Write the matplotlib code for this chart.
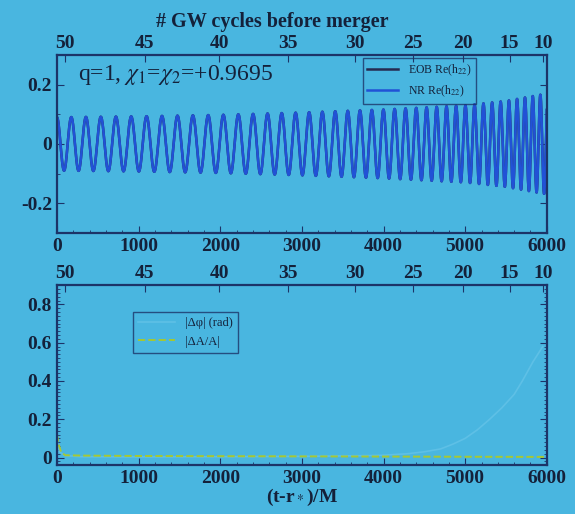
import numpy as np
import matplotlib
matplotlib.use('Agg')
import matplotlib.pyplot as plt
from matplotlib.ticker import MultipleLocator

plt.rcParams['font.family'] = ['Liberation Serif', 'DejaVu Serif']
plt.rcParams['mathtext.fontset'] = 'stix'

# Кольори "слайда"
bg = '#49b6e0'
ink = '#14213a'
frame = '#1c3468'

# Шкала циклів ГХ до злиття (верхня вісь) -> час (t-r*)/M
cycle_labels = [50, 45, 40, 35, 30, 25, 20, 15, 10]
cycle_times = [95, 1075, 1990, 2825, 3645, 4355, 4970, 5545, 5950]

# Обвідна амплітуди Re(h22)
amp_times = [0, 1000, 2000, 3000, 4000, 5000, 5500, 6000]
amp_vals = [0.09, 0.093, 0.098, 0.106, 0.116, 0.13, 0.145, 0.17]

# Нижня панель: |dphi| (рад) та |dA/A|
dphi_t = [0, 30, 100, 300, 1000, 2000, 3000, 3800, 4000, 4300, 4500, 4700, 4850,
          5000, 5150, 5300, 5450, 5600, 5700, 5830, 5950]
dphi_vals = [0.09, 0.03, 0.01, 0.004, 0.003, 0.004, 0.006, 0.01, 0.012, 0.02, 0.03,
             0.045, 0.07, 0.1, 0.145, 0.2, 0.26, 0.33, 0.4, 0.5, 0.58]
dA_t = [0, 20, 50, 100, 300, 1000, 2000, 3000, 4000, 5000, 6000]
dA_vals = [0.12, 0.07, 0.03, 0.012, 0.01, 0.008, 0.007, 0.006, 0.005, 0.004, 0.003]

# Хвильова форма з прочитаних циклів і амплітуди
t = np.linspace(0, 6000, 12000)
coef = np.polyfit(cycle_times, cycle_labels, 3)
n_cyc = np.polyval(coef, t)
amp = np.interp(t, amp_times, amp_vals)
h = amp * np.cos(2 * np.pi * (n_cyc[0] - n_cyc))

fig = plt.figure(figsize=(5.75, 5.14), dpi=100)
fig.patch.set_facecolor(bg)
ax1 = fig.add_axes([0.099, 0.547, 0.852, 0.346])
ax2 = fig.add_axes([0.099, 0.095, 0.852, 0.350])


def style(ax):
    ax.set_facecolor(bg)
    for s in ax.spines.values():
        s.set_color(frame)
        s.set_linewidth(1.6)
    ax.tick_params(which='both', direction='in', colors=frame, labelcolor=ink,
                   labelsize=14, right=True)
    ax.tick_params(which='major', length=5)
    ax.tick_params(which='minor', length=2.5)
    for lab in ax.get_xticklabels() + ax.get_yticklabels():
        lab.set_fontweight('bold')


def cycles_axis(ax):
    top = ax.twiny()
    top.set_xlim(ax.get_xlim())
    top.set_xticks(cycle_times)
    top.set_xticklabels([str(c) for c in cycle_labels], fontweight='bold')
    top.tick_params(direction='in', colors=frame, labelcolor=ink, labelsize=14,
                    length=5, pad=2)
    for s in top.spines.values():
        s.set_visible(False)
    return top


# Верхня панель
ax1.plot(t, h, color='#262a50', lw=1.8, label='EOB Re(h$_{22}$)')
ax1.plot(t, h, color='#2152d6', lw=1.8, label='NR Re(h$_{22}$)')
ax1.set_xlim(0, 6000)
ax1.set_ylim(-0.3, 0.3)
ax1.set_yticks([-0.2, 0, 0.2])
ax1.set_yticklabels(['-0.2', '0', '0.2'])
ax1.xaxis.set_major_locator(MultipleLocator(1000))
ax1.xaxis.set_minor_locator(MultipleLocator(200))
ax1.yaxis.set_minor_locator(MultipleLocator(0.1))
style(ax1)
ax1.text(0.043, 0.89, r'q=1, $\chi_1$=$\chi_2$=+0.9695', transform=ax1.transAxes,
         fontsize=17, color=ink, va='center')
leg1 = ax1.legend(loc='upper right', bbox_to_anchor=(0.855, 0.985), fontsize=8.5,
                  frameon=True, fancybox=False, borderaxespad=0, handlelength=2.6)
leg1.get_frame().set_facecolor('none')
leg1.get_frame().set_edgecolor(frame)
for txt in leg1.get_texts():
    txt.set_color(ink)
top1 = cycles_axis(ax1)
top1.set_xlabel('# GW cycles before merger', fontsize=14.5, fontweight='bold',
                color=ink, labelpad=4)
top1.xaxis.set_label_coords(0.44, 1.16)

# Нижня панель
ax2.plot(dphi_t, dphi_vals, color='#5ec0e6', lw=1.2, label='|Δφ| (rad)')
ax2.plot(dA_t, dA_vals, color='#a6c832', lw=1.4, ls='--', label='|ΔA/A|')
ax2.set_xlim(0, 6000)
ax2.set_ylim(-0.04, 0.9)
ax2.set_yticks([0, 0.2, 0.4, 0.6, 0.8])
ax2.set_yticklabels(['0', '0.2', '0.4', '0.6', '0.8'])
ax2.xaxis.set_major_locator(MultipleLocator(1000))
ax2.xaxis.set_minor_locator(MultipleLocator(200))
ax2.yaxis.set_minor_locator(MultipleLocator(0.02))
style(ax2)
ax2.set_xlabel('(t-r$_*$)/M', fontsize=14, fontweight='bold', color=ink, labelpad=0)
leg2 = ax2.legend(loc='upper left', bbox_to_anchor=(0.155, 0.85), fontsize=9,
                  frameon=True, fancybox=False, borderaxespad=0, handlelength=3)
leg2.get_frame().set_facecolor('none')
leg2.get_frame().set_edgecolor(frame)
for txt in leg2.get_texts():
    txt.set_color(ink)
cycles_axis(ax2)

fig.savefig('out.png', dpi=100, facecolor=bg)
